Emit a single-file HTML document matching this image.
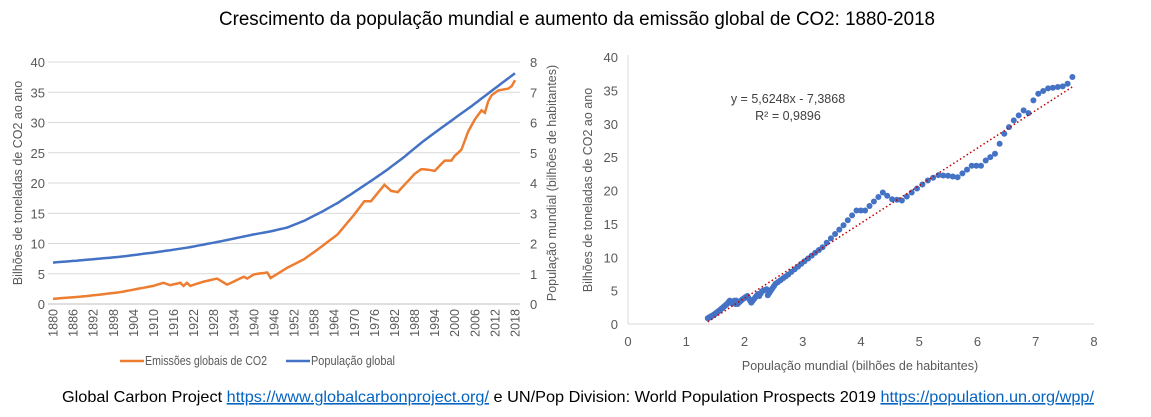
<!DOCTYPE html>
<html><head><meta charset="utf-8"><style>
body{margin:0;background:#fff;width:1151px;height:412px;overflow:hidden;font-family:"Liberation Sans",sans-serif}
svg text{font-family:"Liberation Sans",sans-serif}
</style></head><body>
<svg id="s" width="1151" height="412" xmlns="http://www.w3.org/2000/svg">
<text x="577" y="25" text-anchor="middle" font-size="19" fill="#000" textLength="716" lengthAdjust="spacingAndGlyphs">Crescimento da população mundial e aumento da emissão global de CO2: 1880-2018</text>
<g id="L"></g><g id="R"></g>
<text x="62" y="402" font-size="16" fill="#000" textLength="1032" lengthAdjust="spacingAndGlyphs">Global Carbon Project <tspan fill="#0563c1" text-decoration="underline">https://www.globalcarbonproject.org/</tspan> e UN/Pop Division: World Population Prospects 2019 <tspan fill="#0563c1" text-decoration="underline">https://population.un.org/wpp/</tspan></text>
</svg>
<script>
const NS="http://www.w3.org/2000/svg";
function el(p,t,a,txt){const e=document.createElementNS(NS,t);for(const k in a)e.setAttribute(k,a[k]);if(txt!=null)e.textContent=txt;p.appendChild(e);return e;}
function interp(k){const o={};for(let i=0;i<k.length-1;i++){const[a,va]=k[i],[b,vb]=k[i+1];for(let y=a;y<=b;y++)o[y]=va+(vb-va)*(y-a)/(b-a);}return o;}
const pop=interp([[1880,1.37],[1890,1.46],[1900,1.56],[1910,1.70],[1920,1.86],[1930,2.07],[1940,2.3],[1945,2.4],[1950,2.53],[1955,2.75],[1960,3.03],[1965,3.34],[1970,3.7],[1975,4.07],[1980,4.45],[1985,4.87],[1990,5.33],[1995,5.74],[2000,6.14],[2005,6.54],[2010,6.96],[2018,7.63]]);
const co2=interp([[1880,0.85],[1890,1.3],[1900,1.95],[1910,3.0],[1913,3.5],[1915,3.1],[1918,3.5],[1919,3.0],[1920,3.5],[1921,3.0],[1925,3.7],[1929,4.2],[1932,3.2],[1937,4.5],[1938,4.2],[1940,4.9],[1944,5.2],[1945,4.3],[1950,6.0],[1955,7.4],[1960,9.4],[1965,11.5],[1970,14.8],[1973,17.0],[1975,17.0],[1979,19.7],[1981,18.7],[1983,18.5],[1988,21.5],[1990,22.3],[1992,22.2],[1994,22.0],[1997,23.7],[1999,23.7],[2000,24.5],[2002,25.5],[2004,28.5],[2006,30.5],[2008,32],[2009,31.6],[2010,33.5],[2011,34.5],[2013,35.3],[2015,35.5],[2016,35.6],[2017,36],[2018,37]]);
const L=document.getElementById('L'),R=document.getElementById('R');
const x0=53,x1=515,yb=304,yt=62;
const X=y=>x0+(y-1880)*(x1-x0)/138, Y=v=>yb-v*(yb-yt)/40;
for(let i=0;i<=8;i++){const yy=yb-i*(yb-yt)/8;el(L,'line',{x1:48,x2:520,y1:yy,y2:yy,stroke:i?'#d9d9d9':'#bfbfbf','stroke-width':1});
el(L,'text',{x:45,y:yy+5,'text-anchor':'end','font-size':13,fill:'#595959'},i*5);
el(L,'text',{x:530,y:yy+5,'font-size':13,fill:'#595959'},i);}
for(let y=1880;y<=2018;y+=6){el(L,'text',{x:0,y:0,'font-size':12.5,fill:'#595959','text-anchor':'end',transform:`translate(${X(y)+4.5},309) rotate(-90)`},y);}
let pc='',pp='';for(let y=1880;y<=2018;y++){pc+=(y>1880?'L':'M')+X(y).toFixed(1)+','+Y(co2[y]).toFixed(1);pp+=(y>1880?'L':'M')+X(y).toFixed(1)+','+Y(pop[y]*5).toFixed(1);}
el(L,'path',{d:pc,fill:'none',stroke:'#ed7d31','stroke-width':2.5});
el(L,'path',{d:pp,fill:'none',stroke:'#4472c4','stroke-width':2.5});
el(L,'text',{x:0,y:0,'font-size':12.5,fill:'#595959','text-anchor':'middle',transform:'translate(22,183) rotate(-90)'},'Bilhões de toneladas de CO2 ao ano');
el(L,'text',{x:0,y:0,'font-size':12.5,fill:'#595959','text-anchor':'middle',transform:'translate(556,183) rotate(-90)'},'População mundial (bilhões de habitantes)');
el(L,'line',{x1:120,x2:144,y1:361,y2:361,stroke:'#ed7d31','stroke-width':2.5});
el(L,'text',{x:145,y:365,'font-size':12.5,fill:'#595959',textLength:122,lengthAdjust:'spacingAndGlyphs'},'Emissões globais de CO2');
el(L,'line',{x1:286,x2:310,y1:361,y2:361,stroke:'#4472c4','stroke-width':2.5});
el(L,'text',{x:311,y:365,'font-size':12.5,fill:'#595959',textLength:84,lengthAdjust:'spacingAndGlyphs'},'População global');
const a0=628,a1=1094,b0=324,b1=57;
const SX=v=>a0+v*(a1-a0)/8, SY=v=>b0-v*(b0-b1)/40;
el(R,'line',{x1:a0,x2:a0,y1:55,y2:b0,stroke:'#d9d9d9'});
el(R,'line',{x1:a0,x2:a1,y1:b0,y2:b0,stroke:'#d9d9d9'});
for(let i=0;i<=8;i++){const yy=SY(i*5);el(R,'text',{x:618,y:yy+5,'text-anchor':'end','font-size':13,fill:'#595959'},i*5);
el(R,'text',{x:SX(i),y:346,'text-anchor':'middle','font-size':13,fill:'#595959'},i);}
for(let y=1880;y<=2018;y++)el(R,'circle',{cx:SX(pop[y]).toFixed(1),cy:SY(co2[y]).toFixed(1),r:3,fill:'#4472c4'});
el(R,'line',{x1:SX(1.37),y1:SY(5.6248*1.37-7.3868),x2:SX(7.63),y2:SY(5.6248*7.63-7.3868),stroke:'#c00000','stroke-width':1.5,'stroke-dasharray':'1.5,2.5'});
el(R,'text',{x:788,y:103,'text-anchor':'middle','font-size':12.5,fill:'#404040'},'y = 5,6248x - 7,3868');
el(R,'text',{x:788,y:120,'text-anchor':'middle','font-size':12.5,fill:'#404040'},'R² = 0,9896');
el(R,'text',{x:860,y:370,'text-anchor':'middle','font-size':12.5,fill:'#595959'},'População mundial (bilhões de habitantes)');
el(R,'text',{x:0,y:0,'font-size':12.5,fill:'#595959','text-anchor':'middle',transform:'translate(592,190) rotate(-90)'},'Bilhões de toneladas de CO2 ao ano');
</script>
</body></html>
